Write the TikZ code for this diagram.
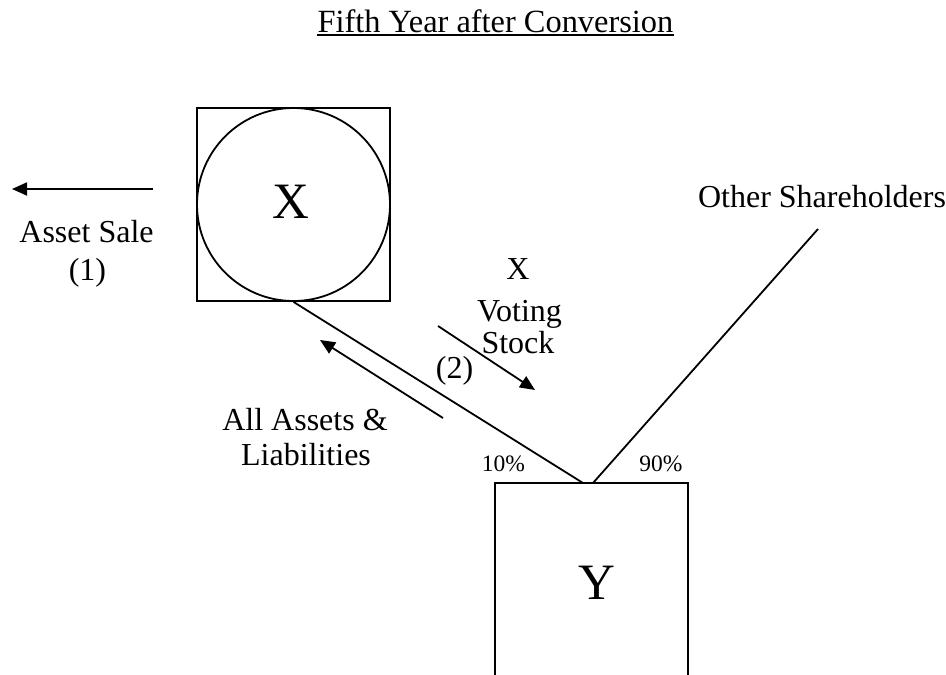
\documentclass[tikz,border=0pt]{standalone}
\usepackage{fontspec}
\setmainfont{Liberation Serif}
\usetikzlibrary{arrows.meta}
\begin{document}
\begin{tikzpicture}[x=1pt,y=-1pt,
  mid/.style={inner sep=0pt, anchor=base, font=\fontsize{32}{36}\selectfont},
  big/.style={inner sep=0pt, anchor=base, font=\fontsize{51}{56}\selectfont},
  small/.style={inner sep=0pt, anchor=base, font=\fontsize{23.5}{27}\selectfont},
  edge/.style={line width=1.8pt},
  flow/.style={line width=1.8pt, -{Triangle[length=15pt,width=13pt]}}]
\useasboundingbox (0,0) rectangle (946,675);

% title
\node[mid, font=\fontsize{32.4}{36}\selectfont] (title) at (495.5,32) {Fifth Year after Conversion};
\draw[line width=2.2pt] ([yshift=-3pt]title.base west) -- ([yshift=-3pt]title.base east);

% corporation X: square with inscribed circle
\node[draw, edge, minimum size=193pt, inner sep=0pt] (xbox) at (293.5,204.5) {};
\node[draw, edge, circle, minimum size=193pt, inner sep=0pt] (xcirc) at (293.5,204.5) {};
\node[big] (xlab) at (290.5,218) {X};

% corporation Y: open-bottom box
\coordinate (ybl) at (495,675);
\coordinate (ytl) at (495,483);
\coordinate (ytr) at (688,483);
\coordinate (ybr) at (688,675);
\draw[edge] (ybl) -- (ytl) -- (ytr) -- (ybr);
\node[big] (ylab) at (596.5,599) {Y};

% ownership lines
\coordinate (yin10) at (583,483);
\coordinate (yin90) at (593,483);
\coordinate (othertop) at (818,229);
\draw[edge] (xcirc.south) -- (yin10);
\draw[edge] (yin90) -- (othertop);

% asset sale
\coordinate (saleA) at (153,189);
\coordinate (saleB) at (12,189);
\draw[flow] (saleA) -- (saleB);
\node[mid] (sale) at (86.5,242) {Asset Sale};
\node[mid] (one) at (87.5,280) {(1)};

% reorganization flows
\coordinate (assetA) at (443,418);
\coordinate (assetB) at (320,340);
\draw[flow] (assetA) -- (assetB);
\coordinate (stockA) at (438,326);
\coordinate (stockB) at (535,390);
\draw[flow] (stockA) -- (stockB);

\node[mid] (vx) at (518,279) {X};
\node[mid] (voting) at (519.5,321) {Voting};
\node[mid] (stock) at (518,353) {Stock};
\node[mid] (two) at (454.5,378) {(2)};
\node[mid] (all) at (305,430) {All Assets \&};
\node[mid] (liab) at (306,465) {Liabilities};

% percentages
\node[small] (p10) at (503.5,471) {10\%};
\node[small] (p90) at (661,471) {90\%};

\node[mid] (others) at (822,207) {Other Shareholders};
\end{tikzpicture}
\end{document}
